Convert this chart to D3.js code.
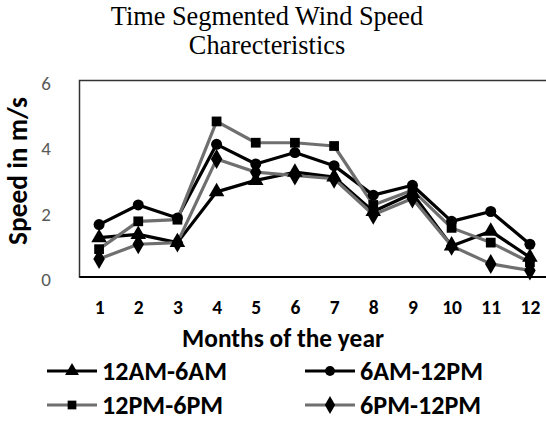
<!DOCTYPE html>
<html><head><meta charset="utf-8">
<script src="https://cdn.jsdelivr.net/npm/d3@7"></script>
<style>body{margin:0;background:#fff}</style>
</head><body>
<svg id="c" width="546" height="423"></svg>
<script>
const months = ["1","2","3","4","5","6","7","8","9","10","11","12"];
const s12AM6AM  = [1.2, 1.3, 1.05, 2.6, 2.95, 3.2, 3.05, 2.0, 2.55, 0.95, 1.4, 0.6];
const s6AM12PM  = [1.6, 2.2, 1.8, 4.05, 3.45, 3.8, 3.4, 2.5, 2.8, 1.7, 2.0, 1.0];
const s12PM6PM  = [0.85, 1.7, 1.75, 4.75, 4.1, 4.1, 4.0, 2.2, 2.65, 1.5, 1.05, 0.45];
const s6PM12PM  = [0.55, 1.0, 1.05, 3.6, 3.2, 3.1, 3.0, 1.9, 2.4, 0.95, 0.4, 0.2];
const yTicks = [0, 2, 4, 6];
const seriesNames = ["12AM-6AM", "6AM-12PM", "12PM-6PM", "6PM-12PM"];
const titleLines = ["Time Segmented Wind Speed", "Charecteristics"];

(function () {
const series = [
  {name: seriesNames[0], values: s12AM6AM, color: "#000000", sym: d3.symbolTriangle, size: 105},
  {name: seriesNames[1], values: s6AM12PM, color: "#000000", sym: d3.symbolCircle, size: 95},
  {name: seriesNames[2], values: s12PM6PM, color: "#6f6f6f", sym: d3.symbolSquare, size: 95},
  {name: seriesNames[3], values: s6PM12PM, color: "#6f6f6f", sym: d3.symbolDiamond, size: 115}
];

const svg = d3.select("#c");
const font = "Carlito, Calibri, Lato, 'Open Sans', sans-serif";
const pl = 79.5, pr = 549.5, pt = 80.5, pb = 277;

function fit(sel, width) {
  const n = sel.node();
  const fs = parseFloat(sel.attr("font-size"));
  const w = n.getComputedTextLength();
  if (w > 0) sel.attr("font-size", (fs * width / w).toFixed(2));
  return sel;
}

const x = d3.scalePoint().domain(months).range([pl, pr]).padding(0.5);
const y = d3.scaleLinear().domain([0, 6]).range([pb, pt]);

svg.append("g").selectAll("text").data(titleLines).join("text")
  .attr("x", 267).attr("y", (d, i) => 25 + i * 29)
  .attr("text-anchor", "middle")
  .attr("font-family", "'Liberation Serif', 'Times New Roman', serif")
  .attr("font-size", 26.3).attr("fill", "#000").text(d => d);

svg.append("rect").attr("x", pl).attr("y", pt)
  .attr("width", pr - pl + 10).attr("height", pb - pt)
  .attr("fill", "none").attr("stroke", "#333").attr("stroke-width", 1.5);
svg.append("line").attr("x1", pl).attr("x2", 546).attr("y1", pb).attr("y2", pb)
  .attr("stroke", "#000").attr("stroke-width", 2);

const yAxis = d3.axisLeft(y).tickValues(yTicks).tickSize(0).tickPadding(0).tickFormat(d3.format("d"));
const yg = svg.append("g").attr("transform", "translate(51,2)").call(yAxis);
yg.select(".domain").remove();
yg.selectAll("text").attr("font-family", font).attr("font-size", 19).attr("fill", "#595959").attr("dy", "0.36em");

const xAxis = d3.axisBottom(x).tickSize(0).tickPadding(0);
const xg = svg.append("g").attr("transform", "translate(0,300)").call(xAxis);
xg.select(".domain").remove();
xg.selectAll("text").attr("font-family", font).attr("font-size", 19.5).attr("font-weight", "bold").attr("fill", "#000");

fit(svg.append("text").attr("x", 283).attr("y", 347).attr("text-anchor", "middle")
  .attr("font-family", font).attr("font-size", 24).attr("font-weight", "bold").text("Months of the year"), 202);
fit(svg.append("text").attr("transform", "translate(27,171) rotate(-90)").attr("text-anchor", "middle")
  .attr("font-family", font).attr("font-size", 24).attr("font-weight", "bold").text("Speed in m/s"), 148);

const line = d3.line().x((d, i) => x(months[i])).y(d => y(d));
const plot = svg.append("g");
series.forEach(s => {
  plot.append("path").datum(s.values).attr("d", line)
    .attr("fill", "none").attr("stroke", s.color).attr("stroke-width", 3.2).attr("stroke-linejoin", "round");
});
series.forEach(s => {
  plot.append("g").selectAll("path").data(s.values).join("path")
    .attr("transform", (d, i) => `translate(${x(months[i])},${y(d)})`)
    .attr("d", d3.symbol().type(s.sym).size(s.size)).attr("fill", "#000");
});

const legPos = [[47, 371], [305, 371], [47, 405], [305, 405]];
const legendTexts = [];
series.forEach((s, i) => {
  const [lx, ly] = legPos[i];
  const g = svg.append("g");
  g.append("line").attr("x1", lx).attr("x2", lx + 50).attr("y1", ly).attr("y2", ly)
    .attr("stroke", s.color).attr("stroke-width", 3.2);
  g.append("path").attr("transform", `translate(${lx + 25},${ly})`)
    .attr("d", d3.symbol().type(s.sym).size(s.size * 0.8)).attr("fill", "#000");
  legendTexts.push(g.append("text").attr("x", lx + 55).attr("y", ly).attr("dy", "0.36em")
    .attr("font-family", font).attr("font-size", 23).attr("font-weight", "bold").text(s.name));
});
fit(legendTexts[0], 125);
const fsLeg = legendTexts[0].attr("font-size");
legendTexts.forEach(t => t.attr("font-size", fsLeg));
})();
</script>
</body></html>
